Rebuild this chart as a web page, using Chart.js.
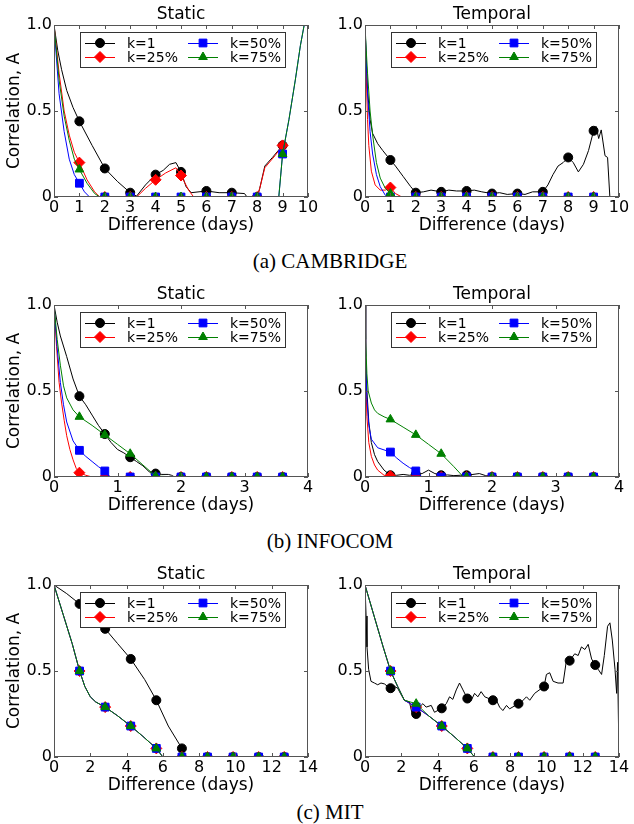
<!DOCTYPE html>
<html>
<head>
<meta charset="utf-8">
<script src="https://cdn.jsdelivr.net/npm/chart.js@4/dist/chart.umd.min.js"></script>
<style>
    body { margin: 0; background: #fff; width: 634px; height: 824px; position: relative; overflow: hidden; }
    canvas { position: absolute; }
    .cap { position: absolute; left: 230px; width: 200px; text-align: center; font-family: "Liberation Serif", serif; font-size: 21px; line-height: 24px; color: #000; white-space: nowrap; }
</style>
</head>
<body>
<div class="cap" style="top:249px">(a) CAMBRIDGE</div>
<div class="cap" style="top:529px">(b) INFOCOM</div>
<div class="cap" style="top:800px">(c) MIT</div>
<script>
// series labels
const seriesLabels = ['k=1', 'k=25%', 'k=50%', 'k=75%']

// x positions where markers are drawn
const camMarks = [1, 2, 3, 4, 5, 6, 7, 8, 9]
const infoMarks = [0.4, 0.8, 1.2, 1.6, 2.0, 2.4, 2.8, 3.2, 3.6]
const mitMarks = [1.41, 2.82, 4.23, 5.64, 7.05, 8.46, 9.87, 11.28, 12.69]

// (a) CAMBRIDGE - static
const camStaticK1 = [[0,1],[0.15,0.85],[0.3,0.74],[0.5,0.62],[0.75,0.52],[1,0.44],[1.5,0.3],[2,0.166],[2.5,0.09],[3,0.025],[3.25,0.005],[3.6,0.07],[4,0.13],[4.3,0.155],[4.55,0.19],[4.8,0.2],[5,0.146],[5.2,0.06],[5.4,0.025],[6,0.035],[6.5,0.025],[7,0.025],[7.5,0.02],[7.6,0],[8,0],[8.1,0.05],[8.3,0.18],[8.6,0.23],[9,0.3]]
const camStaticK25 = [[0,1],[0.2,0.72],[0.4,0.5],[0.6,0.36],[0.8,0.26],[1,0.2],[1.3,0.1],[1.6,0.03],[1.8,0],[2,0],[3,0],[3.25,0],[3.6,0.05],[4,0.1],[4.4,0.14],[4.8,0.17],[5,0.125],[5.3,0.04],[5.5,0],[6,0],[7,0],[8,0],[8.1,0.05],[8.3,0.17],[8.7,0.24],[9,0.3]]
const camStaticK50 = [[0,1],[0.2,0.6],[0.4,0.38],[0.6,0.22],[0.8,0.13],[1,0.08],[1.2,0.03],[1.4,0],[2,0],[3,0],[4,0],[5,0],[6,0],[7,0],[8,0],[8.85,0],[9,0.25],[9.25,0.45],[9.5,0.68],[9.7,0.88],[9.85,1]]
const camStaticK75 = [[0,1],[0.2,0.68],[0.4,0.47],[0.6,0.33],[0.8,0.22],[1,0.16],[1.3,0.08],[1.6,0.02],[1.8,0],[2,0],[3,0],[4,0],[5,0],[6,0],[7,0],[8,0],[8.85,0],[9,0.25],[9.25,0.45],[9.5,0.68],[9.7,0.88],[9.85,1]]

// (a) CAMBRIDGE - temporal
const camTempK1 = [[0,1],[0.05,0.8],[0.1,0.62],[0.2,0.45],[0.3,0.37],[0.5,0.31],[0.7,0.27],[1,0.215],[1.2,0.18],[1.5,0.12],[1.8,0.06],[2,0.025],[2.3,0.03],[2.6,0.04],[3,0.03],[3.3,0.04],[3.6,0.035],[4,0.035],[4.3,0.04],[4.6,0.03],[5,0.02],[5.3,0.025],[5.6,0.015],[6,0.02],[6.3,0.015],[6.6,0.03],[7,0.03],[7.2,0.07],[7.4,0.13],[7.6,0.18],[7.8,0.2],[8,0.23],[8.2,0.2],[8.4,0.146],[8.6,0.19],[8.8,0.27],[9,0.385],[9.1,0.41],[9.2,0.34],[9.3,0.39],[9.45,0.24],[9.55,0.23],[9.64,0]]
const camTempK25 = [[0,1],[0.05,0.7],[0.1,0.45],[0.15,0.3],[0.25,0.15],[0.4,0.07],[0.6,0.04],[0.8,0.04],[1,0.055],[1.2,0.02],[1.45,0],[2,0],[3,0],[4,0],[5,0],[6,0],[7,0],[8,0],[9,0]]
const camTempK50 = [[0,1],[0.05,0.8],[0.1,0.6],[0.2,0.38],[0.3,0.25],[0.45,0.13],[0.6,0.06],[0.8,0.01],[1,0],[2,0],[3,0],[4,0],[5,0],[6,0],[7,0],[8,0],[9,0]]
const camTempK75 = [[0,1],[0.05,0.85],[0.1,0.72],[0.2,0.5],[0.3,0.36],[0.45,0.2],[0.6,0.11],[0.8,0.05],[1,0.02],[1.2,0],[2,0],[3,0],[4,0],[5,0],[6,0],[7,0],[8,0],[9,0]]

// (b) INFOCOM - static
const infoStaticK1 = [[0,1],[0.05,0.9],[0.1,0.82],[0.2,0.7],[0.3,0.57],[0.4,0.47],[0.5,0.42],[0.6,0.36],[0.7,0.3],[0.8,0.25],[0.9,0.2],[1.0,0.16],[1.1,0.14],[1.2,0.115],[1.3,0.09],[1.4,0.065],[1.5,0.03],[1.6,0.02],[1.7,0.015],[1.8,0.015],[1.85,0.01],[1.9,0],[2.0,0],[2.4,0],[2.8,0],[3.2,0],[3.6,0]]
const infoStaticK25 = [[0,1],[0.04,0.76],[0.08,0.55],[0.12,0.43],[0.16,0.33],[0.2,0.24],[0.25,0.16],[0.3,0.1],[0.35,0.05],[0.4,0.025],[0.5,0.01],[0.6,0],[0.8,0],[1.2,0],[1.6,0],[2.0,0],[2.4,0],[2.8,0],[3.2,0],[3.6,0]]
const infoStaticK50 = [[0,1],[0.05,0.75],[0.1,0.55],[0.15,0.42],[0.2,0.32],[0.3,0.21],[0.4,0.155],[0.5,0.12],[0.6,0.09],[0.7,0.06],[0.8,0.035],[0.85,0.01],[0.9,0],[1.2,0],[1.6,0],[2.0,0],[2.4,0],[2.8,0],[3.2,0],[3.6,0]]
const infoStaticK75 = [[0,1],[0.05,0.8],[0.1,0.65],[0.15,0.53],[0.2,0.46],[0.3,0.39],[0.4,0.35],[0.6,0.3],[0.8,0.245],[1.0,0.19],[1.2,0.135],[1.4,0.07],[1.6,0.005],[2.0,0],[2.4,0],[2.8,0],[3.2,0],[3.6,0]]

// (b) INFOCOM - temporal
const infoTempK1 = [[0,1],[0.01,0.7],[0.03,0.5],[0.06,0.32],[0.1,0.2],[0.15,0.13],[0.2,0.09],[0.3,0.04],[0.4,0.01],[0.5,0.01],[0.6,0.015],[0.7,0.01],[0.8,0.015],[0.9,0.02],[1.0,0.04],[1.1,0.02],[1.2,0.01],[1.3,0.012],[1.4,0.008],[1.5,0.01],[1.6,0.01],[1.7,0.015],[1.8,0.02],[1.9,0.008],[2.0,0],[2.4,0],[2.8,0],[3.2,0],[3.6,0]]
const infoTempK25 = [[0,1],[0.01,0.6],[0.03,0.35],[0.06,0.2],[0.1,0.12],[0.15,0.07],[0.2,0.04],[0.3,0.01],[0.4,0.005],[0.5,0],[0.8,0],[1.2,0],[1.6,0],[2.0,0],[2.4,0],[2.8,0],[3.2,0],[3.6,0]]
const infoTempK50 = [[0,1],[0.01,0.7],[0.03,0.45],[0.06,0.3],[0.1,0.22],[0.2,0.17],[0.4,0.145],[0.5,0.11],[0.6,0.08],[0.7,0.055],[0.8,0.035],[0.9,0],[1.2,0],[1.6,0],[2.0,0],[2.4,0],[2.8,0],[3.2,0],[3.6,0]]
const infoTempK75 = [[0,1],[0.01,0.8],[0.03,0.6],[0.05,0.5],[0.1,0.43],[0.15,0.39],[0.2,0.37],[0.3,0.35],[0.4,0.335],[0.6,0.29],[0.8,0.245],[1.0,0.19],[1.2,0.135],[1.4,0.06],[1.55,0],[1.6,0],[2.0,0],[2.4,0],[2.8,0],[3.2,0],[3.6,0]]

// (c) MIT - static (k=25%, 50%, 75% lie on top of each other)
const mitStaticK1 = [[0,1],[0.7,0.95],[1.41,0.89],[2.1,0.82],[2.82,0.745],[3.5,0.66],[4.23,0.57],[5,0.45],[5.64,0.33],[6.3,0.18],[7.05,0.05],[7.15,0],[8.46,0],[9.87,0],[11.28,0],[12.69,0]]
const mitStaticK25 = [[0,1],[0.5,0.83],[1,0.66],[1.41,0.5],[1.7,0.41],[2.0,0.35],[2.3,0.32],[2.82,0.29],[3.5,0.24],[4.23,0.18],[4.9,0.12],[5.64,0.05],[6.0,0],[7.05,0],[8.46,0],[9.87,0],[11.28,0],[12.69,0]]
const mitStaticK50 = [[0,1],[0.5,0.83],[1,0.66],[1.41,0.5],[1.7,0.41],[2.0,0.35],[2.3,0.32],[2.82,0.29],[3.5,0.24],[4.23,0.18],[4.9,0.12],[5.64,0.05],[6.0,0],[7.05,0],[8.46,0],[9.87,0],[11.28,0],[12.69,0]]
const mitStaticK75 = [[0,1],[0.5,0.83],[1,0.66],[1.41,0.5],[1.7,0.41],[2.0,0.35],[2.3,0.32],[2.82,0.29],[3.5,0.24],[4.23,0.18],[4.9,0.12],[5.64,0.05],[6.0,0],[7.05,0],[8.46,0],[9.87,0],[11.28,0],[12.69,0]]

// (c) MIT - temporal
const mitTempK1 = [[0,1],[0.06,0.82],[0.11,0.64],[0.2,0.51],[0.33,0.44],[0.52,0.43],[0.7,0.42],[0.88,0.43],[1.07,0.425],[1.25,0.41],[1.41,0.4],[1.62,0.41],[1.8,0.4],[1.95,0.37],[2.17,0.33],[2.45,0.32],[2.6,0.25],[2.82,0.25],[3.0,0.29],[3.19,0.31],[3.37,0.29],[3.65,0.3],[3.83,0.26],[4.23,0.283],[4.48,0.31],[4.66,0.35],[4.84,0.335],[5.03,0.39],[5.21,0.43],[5.4,0.39],[5.64,0.34],[5.86,0.33],[6.04,0.37],[6.22,0.35],[6.4,0.38],[6.6,0.35],[7.05,0.33],[7.24,0.33],[7.42,0.29],[7.6,0.27],[7.8,0.3],[7.97,0.28],[8.46,0.31],[8.62,0.32],[8.9,0.35],[9.08,0.33],[9.35,0.37],[9.87,0.41],[10.0,0.48],[10.18,0.49],[10.37,0.44],[10.64,0.43],[10.92,0.43],[11.1,0.56],[11.28,0.56],[11.56,0.6],[11.75,0.59],[11.93,0.64],[12.12,0.625],[12.3,0.655],[12.49,0.57],[12.69,0.535],[12.85,0.51],[13.04,0.48],[13.19,0.59],[13.37,0.76],[13.5,0.78],[13.63,0.68],[13.78,0.51],[13.87,0.37],[13.92,0.55],[14.0,0]]
const mitTempK25 = [[0,1],[0.5,0.82],[1,0.64],[1.41,0.5],[1.8,0.41],[2.17,0.33],[2.82,0.29],[3.5,0.24],[4.23,0.18],[4.9,0.12],[5.64,0.05],[6.04,0],[7.05,0],[8.46,0],[9.87,0],[11.28,0],[12.69,0]]
const mitTempK50 = [[0,1],[0.5,0.82],[1,0.64],[1.41,0.5],[1.8,0.41],[2.17,0.33],[2.82,0.29],[3.5,0.24],[4.23,0.18],[4.9,0.12],[5.64,0.05],[6.04,0],[7.05,0],[8.46,0],[9.87,0],[11.28,0],[12.69,0]]
const mitTempK75 = [[0,1],[0.5,0.82],[1,0.64],[1.41,0.5],[1.8,0.41],[2.17,0.33],[2.82,0.31],[3.5,0.24],[4.23,0.18],[4.9,0.12],[5.64,0.05],[6.04,0],[7.05,0],[8.46,0],[9.87,0],[11.28,0],[12.69,0]]

const seriesStyle = [
    { color: '#000000', shape: 'circle', r: 4.5 },
    { color: '#ff0000', shape: 'rectRot', r: 5.5 },
    { color: '#0000ff', shape: 'rect', r: 5.5 },
    { color: '#008000', shape: 'triangle', r: 5 }
]

Chart.defaults.font.family = 'DejaVu Sans'
Chart.defaults.color = '#000'

function marker(ctx, st, x, y) {
    ctx.fillStyle = st.color
    ctx.strokeStyle = st.color
    ctx.lineWidth = 1
    Chart.helpers.drawPoint(ctx, { pointStyle: st.shape, radius: st.r, rotation: 0, borderWidth: 1 }, x, y)
}

// box round the plot with small inward ticks, like matplotlib
const frame = {
    id: 'frame',
    afterDatasetsDraw(chart) {
        const { ctx, chartArea: a, scales } = chart
        ctx.save()
        ctx.strokeStyle = '#555'
        ctx.lineWidth = 1
        ctx.strokeRect(a.left + 0.5, a.top + 0.5, a.right - a.left - 1, a.bottom - a.top - 1)
        ctx.beginPath()
        scales.x.ticks.forEach(t => {
            const px = Math.round(scales.x.getPixelForValue(t.value)) + 0.5
            ctx.moveTo(px, a.bottom); ctx.lineTo(px, a.bottom - 4)
            ctx.moveTo(px, a.top); ctx.lineTo(px, a.top + 4)
        })
        scales.y.ticks.forEach(t => {
            const py = Math.round(scales.y.getPixelForValue(t.value)) + 0.5
            ctx.moveTo(a.left, py); ctx.lineTo(a.left + 4, py)
            ctx.moveTo(a.right, py); ctx.lineTo(a.right - 4, py)
        })
        ctx.stroke()
        ctx.restore()
    }
}

// 2x2 legend in a box inside the plot
const boxLegend = {
    id: 'boxLegend',
    afterDraw(chart) {
        const { ctx, chartArea: a } = chart
        const x0 = a.left + 26, y0 = a.top + 7
        ctx.save()
        ctx.fillStyle = '#fff'
        ctx.fillRect(x0, y0, 205, 35)
        ctx.strokeStyle = '#333'
        ctx.lineWidth = 1
        ctx.strokeRect(x0 + 0.5, y0 + 0.5, 205, 35)
        seriesLabels.forEach((label, i) => {
            const st = seriesStyle[i]
            const col = i < 2 ? 0 : 1
            const row = i % 2
            const lx = x0 + (col ? 108 : 5)
            const ly = y0 + (row ? 25 : 11)
            ctx.strokeStyle = st.color
            ctx.beginPath()
            ctx.moveTo(lx, ly + 0.5); ctx.lineTo(lx + 30, ly + 0.5)
            ctx.stroke()
            marker(ctx, st, lx + 15, ly)
            ctx.fillStyle = '#000'
            ctx.font = '14px "DejaVu Sans"'
            ctx.textBaseline = 'middle'
            ctx.textAlign = 'left'
            ctx.fillText(label, lx + 42, ly + 1)
        })
        ctx.restore()
    }
}

function makePlot({ left, top, width, yWidth, padRight, title, yTitle, xMax, xStep, marks, series }) {
    const canvas = document.createElement('canvas')
    canvas.width = width
    canvas.height = 240
    canvas.style.left = left + 'px'
    canvas.style.top = top + 'px'
    document.body.appendChild(canvas)

    new Chart(canvas, {
        type: 'line',
        data: {
            datasets: series.map((pts, i) => ({
                label: seriesLabels[i],
                data: pts.map(p => ({ x: p[0], y: p[1] })),
                borderColor: seriesStyle[i].color,
                backgroundColor: seriesStyle[i].color,
                pointBorderColor: seriesStyle[i].color,
                borderWidth: 1,
                pointStyle: seriesStyle[i].shape,
                pointRadius: ctx => (ctx.raw && marks.includes(ctx.raw.x)) ? seriesStyle[i].r : 0,
                pointBorderWidth: 1,
                tension: 0,
                order: 4 - i
            }))
        },
        options: {
            responsive: false,
            animation: false,
            devicePixelRatio: 1,
            layout: { padding: { left: 0, right: padRight, top: 0, bottom: 0 } },
            plugins: {
                legend: { display: false },
                tooltip: { enabled: false },
                title: {
                    display: true, text: title, fullSize: false, color: '#000',
                    font: { size: 17, weight: 'normal', lineHeight: 1 },
                    padding: { top: 6, bottom: 2 }
                }
            },
            scales: {
                x: {
                    type: 'linear', min: 0, max: xMax,
                    grid: { display: false, drawTicks: false },
                    border: { display: false },
                    ticks: { stepSize: xStep, padding: 1, maxRotation: 0, autoSkip: false, font: { size: 16 }, color: '#000' },
                    title: { display: true, text: 'Difference (days)', color: '#000', font: { size: 17, lineHeight: 1 }, padding: { top: 0, bottom: 6 } },
                    afterFit: s => { s.height = 43 }
                },
                y: {
                    min: 0, max: 1,
                    grid: { display: false, drawTicks: false },
                    border: { display: false },
                    ticks: { stepSize: 0.5, padding: 2, font: { size: 16 }, color: '#000', callback: v => v === 0 ? '0' : v.toFixed(1) },
                    title: { display: yTitle, text: 'Correlation, A', color: '#000', font: { size: 17, lineHeight: 1 }, padding: { top: 6.5, bottom: 0 } },
                    afterFit: s => { s.width = yWidth }
                }
            }
        },
        plugins: [frame, boxLegend]
    })
}

const rows = [
    { top: 0, xMax: 10, xStep: 1, marks: camMarks,
      stat: [camStaticK1, camStaticK25, camStaticK50, camStaticK75],
      temp: [camTempK1, camTempK25, camTempK50, camTempK75] },
    { top: 280, xMax: 4, xStep: 1, marks: infoMarks,
      stat: [infoStaticK1, infoStaticK25, infoStaticK50, infoStaticK75],
      temp: [infoTempK1, infoTempK25, infoTempK50, infoTempK75] },
    { top: 560, xMax: 14, xStep: 2, marks: mitMarks,
      stat: [mitStaticK1, mitStaticK25, mitStaticK50, mitStaticK75],
      temp: [mitTempK1, mitTempK25, mitTempK50, mitTempK75] }
]

rows.forEach(r => {
    makePlot({ left: 0, top: r.top, width: 325, yWidth: 54, padRight: 17, title: 'Static', yTitle: true,
        xMax: r.xMax, xStep: r.xStep, marks: r.marks, series: r.stat })
    makePlot({ left: 310, top: r.top, width: 324, yWidth: 55, padRight: 15, title: 'Temporal', yTitle: false,
        xMax: r.xMax, xStep: r.xStep, marks: r.marks, series: r.temp })
})
</script>
</body>
</html>
